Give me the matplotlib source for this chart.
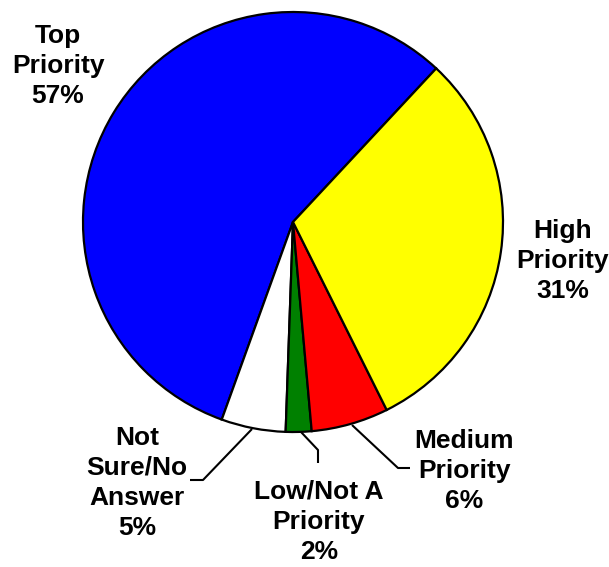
import matplotlib
matplotlib.use("Agg")
import matplotlib.pyplot as plt

labels = ["Top\nPriority\n57%", "Not\nSure/No\nAnswer\n5%", "Low/Not A\nPriority\n2%",
          "Medium\nPriority\n6%", "High\nPriority\n31%"]
values = [57, 5, 2, 6, 31]
colors = ["#0000FF", "#FFFFFF", "#008000", "#FF0000", "#FFFF00"]

W, H = 609, 567
fig = plt.figure(figsize=(W / 100, H / 100), dpi=100)
ax = fig.add_axes([0, 0, 1, 1])
cx, cy, r = 293, H - 222, 210
ax.pie(values, colors=colors, startangle=47, counterclock=True,
       center=(cx, cy), radius=r, frame=True,
       wedgeprops=dict(edgecolor="black", linewidth=1.6))
ax.set_xlim(0, W)
ax.set_ylim(0, H)
ax.set_aspect("equal")
ax.axis("off")

font = dict(fontsize=19, fontweight="bold", family=["Liberation Sans", "DejaVu Sans"],
            ha="center", va="center", linespacing=1.33)
pos = [(58, 66), (137, 483), (319, 522), (464, 471), (563, 261)]
for lab, (x, y) in zip(labels, pos):
    ax.text(x, H - y, lab, **font)

leaders = [
    [(252, 429), (203, 480), (190, 480)],
    [(301, 432), (318, 450), (318, 463)],
    [(352, 425), (398, 468), (410, 468)],
]
for pts in leaders:
    xs = [p[0] for p in pts]
    ys = [H - p[1] for p in pts]
    ax.plot(xs, ys, color="black", linewidth=1.5, solid_capstyle="butt")

fig.savefig("out.png", dpi=100)
